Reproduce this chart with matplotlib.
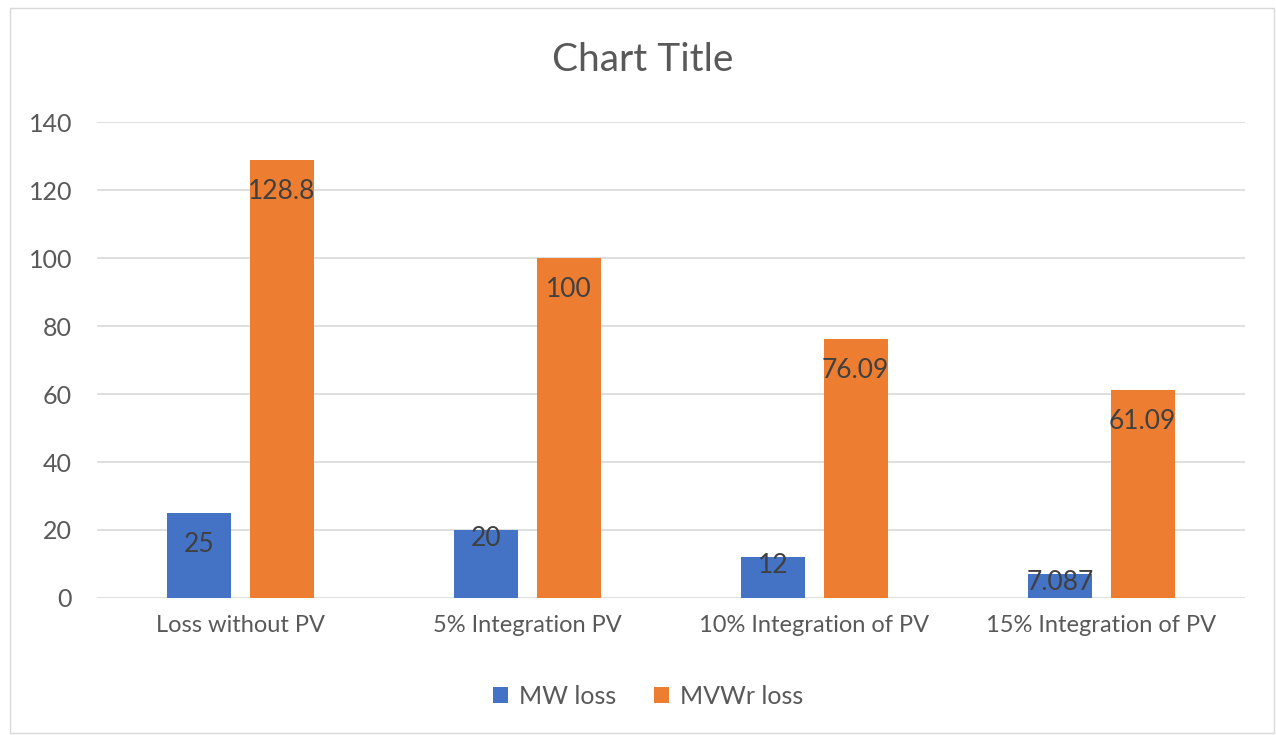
import numpy as np
import matplotlib
matplotlib.use('Agg')
import matplotlib.pyplot as plt
from matplotlib.patches import Rectangle

categories = ["Loss without PV", "5% Integration PV", "10% Integration of PV", "15% Integration of PV"]
mw_loss = [25, 20, 12, 7.087]
mvwr_loss = [128.8, 100, 76.09, 61.09]
mw_labels = ["25", "20", "12", "7.087"]
mvwr_labels = ["128.8", "100", "76.09", "61.09"]
y_ticks = [0, 20, 40, 60, 80, 100, 120, 140]

plt.rcParams['font.family'] = ['Lato', 'DejaVu Sans']

BLUE = "#4472C4"
ORANGE = "#ED7D31"
GREY_TXT = "#595959"
LABEL_TXT = "#404040"

fig = plt.figure(figsize=(12.76, 7.35), dpi=100)
fig.patch.set_facecolor("white")
ax = fig.add_axes([0.076, 0.1864, 0.8997, 0.6476])

# outer chart border
fig.patches.append(Rectangle((10 / 1276, 2 / 735), 1264 / 1276, 725 / 735,
                             transform=fig.transFigure, fill=False,
                             edgecolor="#D9D9D9", linewidth=1.0))

x = np.arange(len(categories))
w = 0.223
off = 0.143
b1 = ax.bar(x - off, mw_loss, w, color=BLUE, label="MW loss", zorder=3)
b2 = ax.bar(x + off, mvwr_loss, w, color=ORANGE, label="MVWr loss", zorder=3)

# value labels at the inside end of each bar (short bars keep them near the top)
for rect, txt in zip(list(b1) + list(b2), mw_labels + mvwr_labels):
    h = rect.get_height()
    cx = rect.get_x() + rect.get_width() / 2
    y = h - 9.3 if h > 20 else h - 2.5
    ax.text(cx, y, txt, ha="center", va="center", fontsize=19,
            color=LABEL_TXT, zorder=4)

ax.set_xlim(-0.5, len(categories) - 0.5)
ax.set_ylim(0, 140)
ax.set_yticks(y_ticks)
ax.set_xticks(x)
ax.set_xticklabels(categories)
ax.tick_params(axis="both", length=0, colors=GREY_TXT)
ax.tick_params(axis="x", pad=12, labelsize=17)
ax.tick_params(axis="y", pad=18, labelsize=18)
ax.grid(axis="y", color="#D9D9D9", linewidth=1.2, zorder=0)
for s in ax.spines.values():
    s.set_visible(False)

fig.text(0.504, 0.918, "Chart Title", ha="center", va="center",
         fontsize=28, color=GREY_TXT)

fig.legend(handles=[b1, b2], labels=["MW loss", "MVWr loss"], loc="center",
           bbox_to_anchor=(0.508, 0.053), ncol=2, frameon=False, fontsize=18,
           handlelength=0.6, handleheight=0.6, handletextpad=0.45,
           columnspacing=1.5, labelcolor=GREY_TXT)

fig.savefig("out.png", dpi=100)
